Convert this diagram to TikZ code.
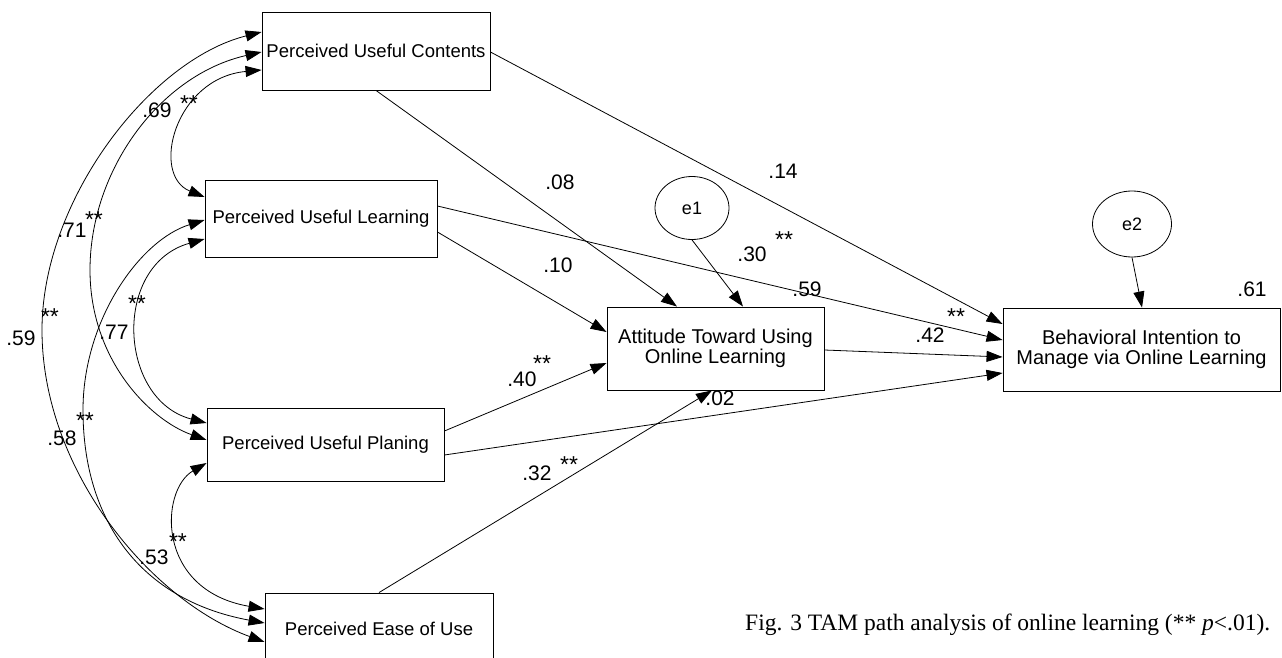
\documentclass[tikz,border=0pt]{standalone}
\usepackage{fontspec}
\setmainfont{Liberation Sans}
\newfontfamily\capfont{Liberation Serif}
\usetikzlibrary{arrows.meta,calc,shapes.geometric}
\begin{document}
\begin{tikzpicture}[x=1pt,y=-1pt,
  box/.style={draw, line width=0.9pt, inner sep=0pt, align=center, font=\fontsize{18.5}{21}\selectfont},
  box2/.style={box, font=\fontsize{20}{20}\selectfont},
  err/.style={draw, ellipse, line width=0.8pt, inner sep=0pt, font=\fontsize{18}{20}\selectfont},
  lab/.style={inner sep=0pt, font=\fontsize{21}{21}\selectfont},
  st/.style={inner sep=0pt, font=\fontsize{23}{23}\selectfont},
  con/.style={line width=0.8pt, -{Triangle[length=16pt,width=11pt]}},
  cov/.style={line width=0.8pt, {Triangle[length=16pt,width=11pt]}-{Triangle[length=16pt,width=11pt]}},
]
\path[use as bounding box] (0,0) rectangle (1282,658);
\clip (0,0) rectangle (1282,658);
\fill[white] (0,0) rectangle (1282,658);

% boxes
\node[box, minimum width=228pt, minimum height=78pt] (puc) at (376,51) {Perceived Useful Contents};
\node[box, minimum width=232pt, minimum height=77pt] (pul) at (321,218.5) {Perceived Useful Learning};
\node[box, minimum width=237pt, minimum height=73pt] (pup) at (325.5,444.5) {Perceived Useful Planing};
\node[box, minimum width=228pt, minimum height=72pt] (peu) at (379,629) {Perceived Ease of Use};
\node[box2, minimum width=217pt, minimum height=83pt] (att) at (715.5,348.5) {Attitude Toward Using\\Online Learning};
\node[box2, minimum width=277pt, minimum height=83pt] (bi) at (1141.5,349.5) {Behavioral Intention to\\Manage via Online Learning};
\node[err, minimum width=74pt, minimum height=63pt] (e1) at (692,208) {e1};
\node[err, minimum width=79pt, minimum height=66pt] (e2) at (1132,224) {e2};

% directed paths
\draw[con] (puc.south) -- ($(att.north)+(-38.5,0)$);
\draw[con] ($(puc.east)+(0,1)$) -- ($(bi.west)+(0,-25.5)$);
\draw[con] ($(pul.east)+(0,13.5)$) -- ($(att.west)+(0,-16.5)$);
\draw[con] ($(pul.east)+(0,-12.5)$) -- ($(bi.west)+(0,-9.5)$);
\draw[con] ($(pup.east)+(0,-13.5)$) -- ($(att.west)+(0,14.5)$);
\draw[con] ($(pup.east)+(0,10.5)$) -- ($(bi.west)+(0,23.5)$);
\draw[con] (peu.north) -- ($(att.south)+(-3.5,0)$);
\draw[con] ($(att.east)+(0,1.5)$) -- ($(bi.west)+(0,7.5)$);
\draw[con] (e1.south) -- ($(att.north)+(27.5,0)$);
\draw[con] (e2.south) -- ($(bi.north)+(0.5,0)$);

% covariances
\draw[cov] ($(puc.west)+(0,19)$) .. controls (175,78) and (150,175) .. ($(pul.west)+(0,-21.5)$);
\draw[cov] ($(puc.west)+(0,1)$) .. controls (160,75) and (90,170) .. (90,270) .. controls (90,360) and (150,420) .. ($(pup.west)+(0,-4.5)$);
\draw[cov] ($(puc.west)+(0,-19)$) .. controls (150,60) and (42,200) .. (42,330) .. controls (42,470) and (150,600) .. ($(peu.west)+(0,13)$);
\draw[cov] ($(pul.west)+(0,1.5)$) .. controls (140,240) and (83,320) .. (83,410) .. controls (83,520) and (140,600) .. ($(peu.west)+(0,-6)$);
\draw[cov] ($(pul.west)+(0,20.5)$) .. controls (112,265) and (118,400) .. ($(pup.west)+(0,-21.5)$);
\draw[cov] ($(pup.west)+(0,18.5)$) .. controls (160,490) and (155,590) .. ($(peu.west)+(0,-20)$);

% coefficient labels (left)
\node[lab] (l69) at (157,110) {.69};  \node[st] (s69) at (189,104) {**};
\node[lab] (l71) at (72,230) {.71};   \node[st] (s71) at (94,220) {**};
\node[lab] (l59a) at (21,338) {.59};  \node[st] (s59a) at (50,317) {**};
\node[lab] (l77) at (114,332) {.77};  \node[st] (s77) at (137,304) {**};
\node[lab] (l58) at (62,438) {.58};   \node[st] (s58) at (85,421) {**};
\node[lab] (l53) at (154,557) {.53};  \node[st] (s53) at (178,542) {**};

% coefficient labels (right)
\node[lab] (l08) at (560,182) {.08};
\node[lab] (l14) at (783,171) {.14};
\node[lab] (l10) at (558,265) {.10};
\node[lab] (l30) at (752,254) {.30};  \node[st] (s30) at (784,240) {**};
\node[lab] (l59b) at (807,289) {.59};
\node[lab] (l42) at (930,335) {.42};  \node[st] (s42) at (956,317) {**};
\node[lab] (l61) at (1252,289) {.61};
\node[lab] (l40) at (522,379) {.40};  \node[st] (s40) at (542,364) {**};
\node[lab] (l02) at (720,398) {.02};
\node[lab] (l32) at (537,473) {.32};  \node[st] (s32) at (569,465) {**};

% caption
\node[anchor=base west, inner sep=0pt, font=\capfont\fontsize{23.5}{26}\selectfont] (cap) at (745,630) {Fig. 3 TAM path analysis of online learning (** \textit{p}<.01).};
\end{tikzpicture}
\end{document}
